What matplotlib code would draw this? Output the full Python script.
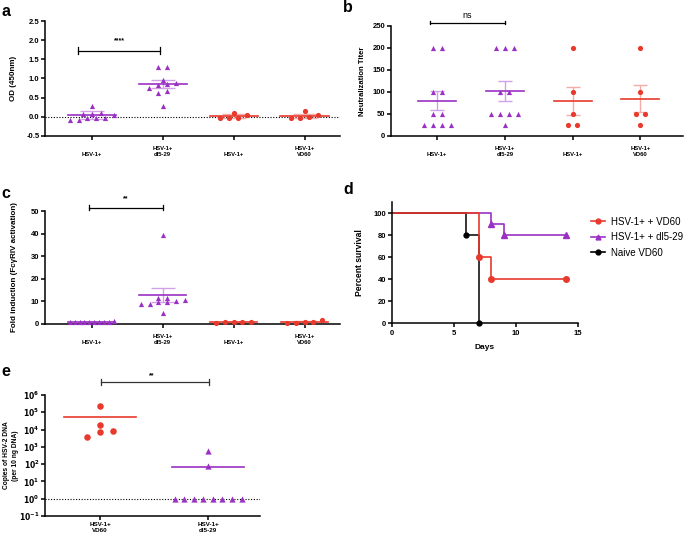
import numpy as np
import matplotlib
matplotlib.use("Agg")
import matplotlib.pyplot as plt

plt.rcParams['font.family'] = ['Liberation Sans', 'DejaVu Sans']
plt.rcParams['axes.unicode_minus'] = False

PURPLE = '#9b30c4'
PURPLE_L = '#d2a0e6'
RED = '#e8392c'
RED_L = '#f5aca5'

cats = ['\nHSV-1+', 'HSV-1+\ndl5-29', '\nHSV-1+', 'HSV-1+\nVD60']
cats_e = ['HSV-1+\nVD60', 'HSV-1+\ndl5-29']

# a - OD (450nm)
od_g1 = [0.08, -0.07, 0.04, 0.10, 0.27, -0.02, -0.02, 0.08, -0.07, -0.02]
od_g2 = [1.31, 1.31, 0.87, 0.85, 0.95, 0.83, 0.76, 0.67, 0.62, 0.29]
od_g3 = [0.11, -0.04, 0.06, -0.04, -0.02]
od_g4 = [0.14, -0.04, 0.04, -0.02, 0.00]
od_mean = [0.055, 0.86, 0.02, 0.02]
od_err = [0.105, 0.095, 0.05, 0.05]

# b - neutralization titer
nt_g1 = [200, 200, 100, 100, 50, 50, 25, 25, 25, 25]
nt_g2 = [200, 200, 200, 100, 100, 50, 50, 50, 50, 25]
nt_g3 = [200, 100, 50, 25, 25]
nt_g4 = [200, 100, 50, 50, 25]
nt_mean = [80, 102.5, 80, 85]
nt_err = [22, 22.5, 32, 31]

# c - fold induction
fi_g1 = [1.0, 1.1, 0.9, 1.2, 1.0, 0.8, 1.1, 0.9, 1.0, 1.0]
fi_g2 = [39.5, 10.6, 9.6, 10.3, 11.5, 9.9, 11.5, 8.9, 8.7, 4.7]
fi_g3 = [1.0, 1.1, 1.0, 1.1, 0.4]
fi_g4 = [0.5, 1.8, 1.0, 1.1, 0.5]
fi_mean = [1.0, 12.7, 0.9, 1.0]
fi_err = [0.1, 3.1, 0.2, 0.3]

# d - survival
vd60_t = [0, 7, 8, 14]
vd60_s = [100, 60, 40, 40]
dl_t = [0, 8, 9, 14]
dl_s = [100, 90, 80, 80]
naive_t = [0, 6, 7]
naive_s = [100, 80, 0]

# e - HSV-2 DNA copies
dna_vd60 = [3.6e3, 8.5e3, 2.4e5, 1.8e4, 7.4e3]
dna_dl = [600, 78, 1, 1, 1, 1, 1, 1, 1, 1]
dna_mean = [5.5e4, 68]


def rows(vals, ysep, step, maxhalf, log=False):
    # points with similar values are put side by side, centred on the group
    v = np.log10(vals) if log else np.asarray(vals, float)
    order = np.argsort(v)
    offs = np.zeros(len(v))
    i = 0
    while i < len(order):
        j = i
        while j + 1 < len(order) and v[order[j + 1]] - v[order[i]] < ysep:
            j += 1
        n = j - i + 1
        st = step if n < 2 else min(step, 2 * maxhalf / (n - 1))
        for k in range(n):
            offs[order[i + k]] = (k - (n - 1) / 2) * st
        i = j + 1
    return offs


def group(ax, xc, vals, color, light, marker, mean, err, ysep, step, half,
          cap, ms=14, log=False):
    offs = rows(vals, ysep, step, 0.31, log)
    ax.scatter(xc + offs, vals, marker=marker, s=ms, color=color, lw=0,
               zorder=3, clip_on=False)
    if err is not None:
        ax.errorbar(xc, mean, yerr=err, color=light, capsize=cap, lw=1,
                    capthick=1, zorder=2)
    ax.plot([xc - half, xc + half], [mean, mean], color=color, lw=1.2, zorder=4)


def style(ax):
    for s in ['top', 'right']:
        ax.spines[s].set_visible(False)
    for s in ['left', 'bottom']:
        ax.spines[s].set_linewidth(1.1)
    ax.tick_params(width=1.1, length=3)
    ax.tick_params(axis='y', labelsize=5.5, pad=1)


def sigbar(ax, x1, x2, y, dy, text, ty, size=5, weight='bold', color='black'):
    ax.plot([x1, x2], [y, y], color=color, lw=0.9, clip_on=False)
    ax.plot([x1, x1], [y - dy, y + dy], color=color, lw=0.9, clip_on=False)
    ax.plot([x2, x2], [y - dy, y + dy], color=color, lw=0.9, clip_on=False)
    ax.text((x1 + x2) / 2, ty, text, ha='center', va='center', fontsize=size,
            fontweight=weight, clip_on=False)


def cat_axis(ax, labels):
    ax.set_xticks(range(len(labels)))
    ax.set_xticklabels(labels, fontsize=4.2, fontweight='bold', linespacing=1.3)
    ax.tick_params(axis='x', pad=4)


fig = plt.figure(figsize=(6.85, 5.38), dpi=100)
W, H = 685, 538


def axes_px(l, t, r, b):
    return fig.add_axes([l / W, 1 - b / H, (r - l) / W, (b - t) / H])


# ---- a
ax = axes_px(45, 21, 340, 136)
style(ax)
ax.set_xlim(-0.66, 3.5)
ax.set_ylim(-0.5, 2.5)
ax.set_yticks(np.arange(-0.5, 2.51, 0.5))
ax.set_yticklabels(['%.1f' % v for v in np.arange(-0.5, 2.51, 0.5)],
                   fontweight='bold', fontsize=5.5)
cat_axis(ax, cats)
ax.axhline(0, color='black', ls=(0, (1, 1.5)), lw=0.8, zorder=1)
for i, (vals, c, lc, m) in enumerate([(od_g1, PURPLE, PURPLE_L, '^'),
                                      (od_g2, PURPLE, PURPLE_L, '^'),
                                      (od_g3, RED, RED_L, 'o'),
                                      (od_g4, RED, RED_L, 'o')]):
    group(ax, i, vals, c, lc, m, od_mean[i], od_err[i], 0.13, 0.125, 0.34, 8.5)
sigbar(ax, -0.19, 0.96, 1.73, 0.08, '****', 1.98)
ax.set_ylabel('OD (450nm)', fontsize=5.8, fontweight='bold')
ax.yaxis.set_label_coords(-0.095, 0.5)

# ---- b
ax = axes_px(391, 26, 683, 136)
style(ax)
ax.set_xlim(-0.68, 3.63)
ax.set_ylim(0, 250)
ax.set_yticks(range(0, 251, 50))
ax.set_yticklabels([str(v) for v in range(0, 251, 50)], fontweight='bold', fontsize=5.5)
cat_axis(ax, cats)
for i, (vals, c, lc, m) in enumerate([(nt_g1, PURPLE, PURPLE_L, '^'),
                                      (nt_g2, PURPLE, PURPLE_L, '^'),
                                      (nt_g3, RED, RED_L, 'o'),
                                      (nt_g4, RED, RED_L, 'o')]):
    group(ax, i, vals, c, lc, m, nt_mean[i], nt_err[i], 5, 0.133, 0.28, 5.3)
sigbar(ax, -0.11, 1.01, 257.6, 3.5, 'ns', 273, size=6.5, weight='normal')
ax.set_ylabel('Neutralization Titer', fontsize=5.5, fontweight='bold')
ax.yaxis.set_label_coords(-0.086, 0.5)

# ---- c
ax = axes_px(45, 211, 340, 324)
style(ax)
ax.set_xlim(-0.66, 3.5)
ax.set_ylim(0, 50)
ax.set_yticks(range(0, 51, 10))
ax.set_yticklabels([str(v) for v in range(0, 51, 10)], fontweight='bold', fontsize=5.5)
cat_axis(ax, cats)
for i, (vals, c, lc, m) in enumerate([(fi_g1, PURPLE, PURPLE_L, '^'),
                                      (fi_g2, PURPLE, PURPLE_L, '^'),
                                      (fi_g3, RED, RED_L, 'o'),
                                      (fi_g4, RED, RED_L, 'o')]):
    group(ax, i, vals, c, lc, m, fi_mean[i], fi_err[i], 2.2, 0.125, 0.33, 8.5)
sigbar(ax, -0.04, 1.0, 51.5, 1.1, '**', 55.6)
ax.set_ylabel('Fold induction (FcγRIV activation)', fontsize=5.8, fontweight='bold')
ax.yaxis.set_label_coords(-0.093, 0.5)

# ---- d
ax = axes_px(392, 202, 578, 323)
style(ax)
ax.set_xlim(0, 15)
ax.set_ylim(0, 110)
ax.set_xticks([0, 5, 10, 15])
ax.set_xticklabels(['0', '5', '10', '15'], fontweight='bold', fontsize=5.5)
ax.set_yticks(range(0, 101, 20))
ax.set_yticklabels([str(v) for v in range(0, 101, 20)], fontweight='bold', fontsize=5.5)
ax.tick_params(axis='x', pad=2)
ax.step(dl_t, dl_s, where='post', color=PURPLE, lw=1.2, clip_on=False)
ax.plot(dl_t[1:], dl_s[1:], '^', color=PURPLE, ms=4, clip_on=False)
ax.step(naive_t, naive_s, where='post', color='black', lw=1.1, clip_on=False)
ax.plot(naive_t[1:], naive_s[1:], 'o', color='black', ms=3.5, clip_on=False)
ax.step(vd60_t, vd60_s, where='post', color=RED, lw=1.2, clip_on=False)
ax.plot(vd60_t[1:], vd60_s[1:], 'o', color=RED, ms=4, clip_on=False)
h1, = ax.plot([], [], '-o', color=RED, ms=3.5, lw=1.2)
h2, = ax.plot([], [], '-^', color=PURPLE, ms=3.5, lw=1.2)
h3, = ax.plot([], [], '-o', color='black', ms=3.5, lw=1.2)
fig.legend([h1, h2, h3], ['HSV-1+ + VD60', 'HSV-1+ + dl5-29', 'Naive VD60'],
           loc='upper left', bbox_to_anchor=(586 / W, 1 - 212 / H), frameon=False,
           fontsize=7, handlelength=1.5, handletextpad=0.6, labelspacing=0.55,
           borderpad=0)
ax.set_xlabel('Days', fontsize=6, fontweight='bold', labelpad=5)
ax.set_ylabel('Percent survival', fontsize=6.2, fontweight='bold')
ax.yaxis.set_label_coords(-0.15, 0.5)

# ---- e
ax = axes_px(45, 395, 260, 516)
style(ax)
ax.set_yscale('log')
ax.set_xlim(-0.51, 1.48)
ax.set_ylim(1e-1, 1e6)
ax.set_yticks([10.0 ** k for k in range(-1, 7)])
ax.set_yticklabels([r'$\mathbf{10^{%d}}$' % k for k in range(-1, 7)], fontsize=5.5)
ax.minorticks_off()
ax.set_xticks([0, 1])
ax.set_xticklabels(cats_e, fontsize=4.5, fontweight='bold', linespacing=1.3)
ax.tick_params(axis='x', pad=1.5)
ax.axhline(1, color='black', ls=(0, (1, 1.5)), lw=0.8, zorder=1)
group(ax, 0, dna_vd60, RED, RED_L, 'o', dna_mean[0], None, 0.4, 0.12, 0.33, 0,
      ms=22, log=True)
group(ax, 1, dna_dl, PURPLE, PURPLE_L, '^', dna_mean[1], None, 0.4, 0.12, 0.33, 0,
      ms=20, log=True)
y0 = 10 ** 6.75
ax.plot([0.01, 1.01], [y0, y0], color='#333333', lw=0.9, clip_on=False)
for xx in [0.01, 1.01]:
    ax.plot([xx, xx], [10 ** 6.6, 10 ** 6.9], color='#333333', lw=0.9, clip_on=False)
ax.text(0.48, 10 ** 7.12, '**', ha='center', va='center', fontsize=5,
        fontweight='bold')
ax.set_ylabel('Copies of HSV-2 DNA\n(per 10 ng DNA)', fontsize=4.8,
              fontweight='bold', linespacing=1.4)
ax.yaxis.set_label_coords(-0.12, 0.5)

# panel letters
for letter, x, y in [('a', 1, 11), ('b', 343, 8), ('c', 1, 194), ('d', 343, 189),
                     ('e', 1, 372)]:
    fig.text(x / W, 1 - y / H, letter, fontsize=11.5, fontweight='bold',
             ha='left', va='center')

fig.savefig('out.png', dpi=100)
